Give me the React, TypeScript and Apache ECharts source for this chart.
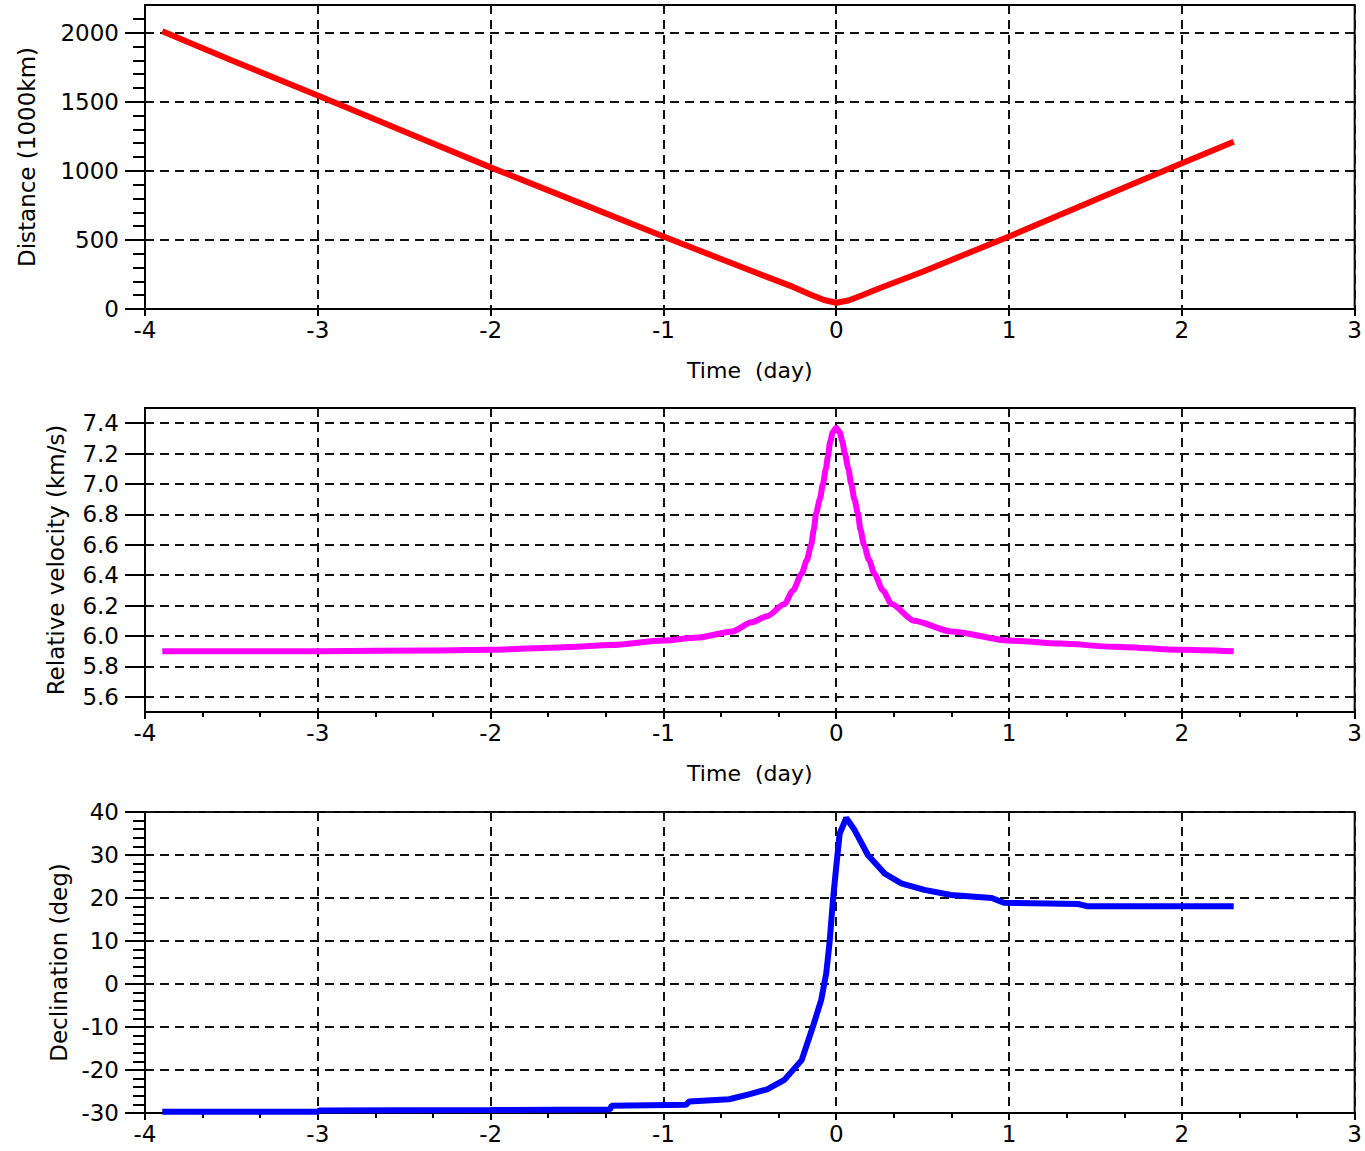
import React, { useEffect, useRef } from "react";
import * as echarts from "echarts";

// ---- data ----
const timeName = "Time  (day)";

const distTime = [-3.9, -3.5, -3.0, -2.5, -2.0, -1.5, -1.0, -0.5, -0.25, -0.15, -0.07, 0.0, 0.07, 0.15, 0.25, 0.5, 1.0, 1.5, 2.0, 2.3];
const distValues = [2010, 1800, 1545, 1285, 1025, 775, 525, 280, 160, 105, 65, 45, 62, 100, 150, 270, 525, 790, 1055, 1210];
const distTicks = [0, 500, 1000, 1500, 2000];

const velTime = [-3.9, -3.0, -2.3, -2.0, -1.6, -1.3, -1.0, -0.8, -0.6, -0.49, -0.4, -0.3, -0.25, -0.2, -0.17, -0.145, -0.13, -0.116, -0.095, -0.077, -0.06, -0.048, -0.035, -0.02, 0.0, 0.02, 0.035, 0.05, 0.07, 0.087, 0.105, 0.125, 0.14, 0.16, 0.19, 0.22, 0.27, 0.32, 0.45, 0.665, 1.0, 1.3, 1.6, 2.0, 2.3];
const velValues = [5.9, 5.9, 5.905, 5.91, 5.925, 5.94, 5.97, 5.99, 6.03, 6.09, 6.13, 6.21, 6.3, 6.41, 6.5, 6.6, 6.7, 6.81, 6.9, 7.0, 7.1, 7.18, 7.28, 7.34, 7.37, 7.34, 7.28, 7.2, 7.1, 7.0, 6.9, 6.81, 6.7, 6.6, 6.5, 6.41, 6.3, 6.21, 6.1, 6.03, 5.97, 5.95, 5.93, 5.91, 5.9];
const velTicks = [5.6, 5.8, 6.0, 6.2, 6.4, 6.6, 6.8, 7.0, 7.2, 7.4];

const decTime = [-3.9, -3.0, -2.99, -2.0, -1.31, -1.3, -0.87, -0.85, -0.62, -0.5, -0.4, -0.3, -0.2, -0.135, -0.087, -0.058, -0.039, -0.019, 0.0, 0.02, 0.058, 0.106, 0.183, 0.28, 0.376, 0.51, 0.665, 0.9, 0.97, 1.4, 1.45, 2.3];
const decValues = [-29.7, -29.7, -29.4, -29.3, -29.2, -28.3, -28.1, -27.3, -26.8, -25.6, -24.5, -22.3, -17.7, -9.9, -3.7, 2.5, 9.5, 19.5, 27.3, 35.0, 38.6, 35.8, 30.0, 25.7, 23.4, 21.9, 20.7, 20.0, 18.9, 18.6, 18.1, 18.1];
const decTicks = [-30, -20, -10, 0, 10, 20, 30, 40];

const xTicks = [-4, -3, -2, -1, 0, 1, 2, 3];

const FONT = "DejaVu Sans";

function zip(xs: number[], ys: number[]) {
  return xs.map((x, i) => [x, ys[i]]);
}

const dash = { type: [9, 6] as any, color: "#111", width: 2 };

function xAxis(gridIndex: number, minor: boolean, name: string | null) {
  return {
    type: "value",
    gridIndex,
    min: -4,
    max: 3,
    interval: 1,
    name: name || undefined,
    nameLocation: "middle",
    nameGap: 50,
    nameTextStyle: { fontFamily: FONT, fontSize: 22, color: "#000" },
    axisLine: { show: true, onZero: false, lineStyle: { color: "#000", width: 2 } },
    axisTick: { show: true, inside: false, length: 7, customValues: xTicks, lineStyle: { color: "#000", width: 2 } },
    minorTick: { show: minor, splitNumber: 3, length: 5, lineStyle: { color: "#000", width: 2 } },
    axisLabel: { customValues: xTicks, margin: 9, fontFamily: FONT, fontSize: 23, color: "#000" },
    splitLine: { show: true, lineStyle: dash },
  };
}

function yAxis(
  gridIndex: number,
  min: number,
  max: number,
  interval: number | undefined,
  ticks: number[],
  minor: boolean,
  name: string,
  nameGap: number,
  fmt: (v: number) => string
) {
  return {
    type: "value",
    gridIndex,
    min,
    max,
    interval,
    name,
    nameLocation: "middle",
    nameGap,
    nameTextStyle: { fontFamily: FONT, fontSize: 23, color: "#000" },
    axisLine: { show: true, onZero: false, lineStyle: { color: "#000", width: 2 } },
    axisTick: { show: true, inside: false, length: 20, customValues: ticks, lineStyle: { color: "#000", width: 2 } },
    minorTick: { show: minor, splitNumber: 5, length: 12, lineStyle: { color: "#000", width: 2 } },
    axisLabel: { customValues: ticks, margin: 26, fontFamily: FONT, fontSize: 23, color: "#000", formatter: fmt },
    splitLine: { show: true, lineStyle: dash },
  };
}

export default function App() {
  const ref = useRef<HTMLDivElement>(null);
  useEffect(() => {
    if (!ref.current) return;
    const chart = echarts.init(ref.current, undefined, { renderer: "svg" });
    const grid = (top: number, height: number) => ({
      left: 145,
      right: 9,
      top,
      height,
      show: true,
      borderColor: "#000",
      borderWidth: 2,
      backgroundColor: "#fff",
      containLabel: false,
    });
    chart.setOption({
      animation: false,
      backgroundColor: "#fff",
      grid: [grid(5, 304), grid(408, 304), grid(812, 301)],
      xAxis: [xAxis(0, false, timeName), xAxis(1, true, timeName), xAxis(2, true, null)],
      yAxis: [
        yAxis(0, 0, 2200, 500, distTicks, true, "Distance (1000km)", 107, (v) => String(v)),
        yAxis(1, 5.5, 7.5, undefined, velTicks, false, "Relative velocity (km/s)", 78, (v) => v.toFixed(1)),
        yAxis(2, -30, 40, 10, decTicks, true, "Declination (deg)", 75, (v) => String(v)),
      ],
      series: [
        {
          type: "line",
          xAxisIndex: 0,
          yAxisIndex: 0,
          data: zip(distTime, distValues),
          showSymbol: false,
          lineStyle: { color: "#ff0000", width: 6 },
          itemStyle: { color: "#ff0000" },
        },
        {
          type: "line",
          xAxisIndex: 1,
          yAxisIndex: 1,
          data: zip(velTime, velValues),
          showSymbol: false,
          smooth: 0.25,
          smoothMonotone: "x",
          lineStyle: { color: "#ff00ff", width: 6 },
          itemStyle: { color: "#ff00ff" },
        },
        {
          type: "line",
          xAxisIndex: 2,
          yAxisIndex: 2,
          data: zip(decTime, decValues),
          showSymbol: false,
          lineStyle: { color: "#0000ff", width: 6 },
          itemStyle: { color: "#0000ff" },
        },
      ],
    });
    return () => chart.dispose();
  }, []);
  return (
    <div
      ref={ref}
      style={{ position: "absolute", left: 0, top: 0, width: 1365, height: 1151 }}
    />
  );
}
